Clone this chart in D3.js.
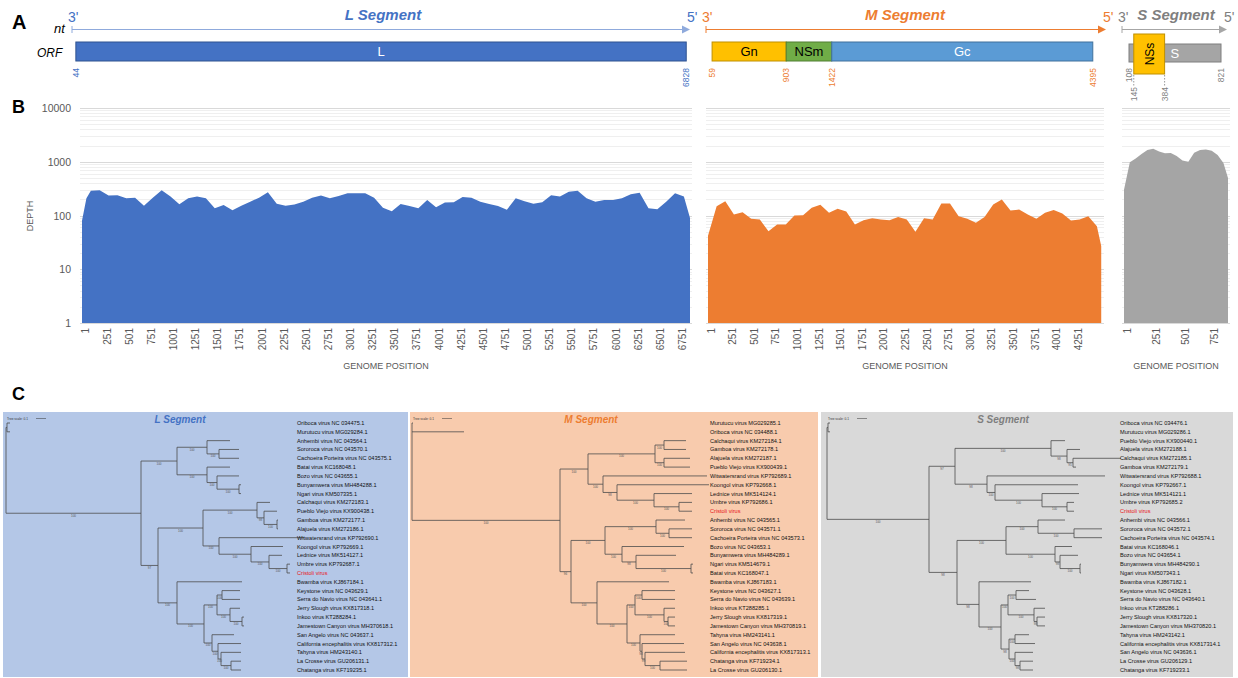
<!DOCTYPE html>
<html>
<head>
<meta charset="utf-8">
<script src="https://cdn.jsdelivr.net/npm/d3@7"></script>
<style>
body { margin: 0; background: #fff; }
text { font-family: "Liberation Sans", Arial, sans-serif; }
</style>
</head>
<body>
<svg id="fig" width="1238" height="678"></svg>
<script>
// ---- data ----
// read depth, sampled along each segment
var lPos = [1, 51].concat(d3.range(101, 6802, 100)).concat([6870]);
var lDepth = [80, 210, 290, 295, 235, 238, 209, 215, 152, 215, 295, 225, 162, 209, 225, 209, 136, 157, 125, 152,
  181, 215, 270, 165, 152, 160, 181, 215, 235, 209, 230, 260, 260, 260, 215, 140, 120, 164, 150, 136,
  195, 142, 174, 177, 220, 215, 181, 164, 150, 128, 209, 184, 165, 177, 238, 225, 277, 290, 209, 181,
  195, 195, 209, 248, 265, 136, 131, 181, 260, 225, 90];
var mPos = d3.range(1, 4502, 100).concat([4551]);
var mDepth = [42, 149, 185, 104, 115, 87, 84, 51, 68, 68, 100, 101, 139, 158, 112, 133, 119, 68, 82, 89,
  84, 82, 94, 84, 50, 89, 84, 167, 167, 97, 87, 73, 94, 160, 199, 124, 129, 104, 87, 112,
  126, 109, 81, 84, 97, 63, 27];
var sPos = d3.range(1, 852, 50).concat([890]);
var sDepth = [300, 980, 1150, 1400, 1650, 1750, 1550, 1440, 1460, 1280, 1060, 1000, 1470, 1650, 1690, 1600, 1330, 950, 500];

var lTicks = d3.range(1, 6752, 250);
var mTicks = d3.range(1, 4252, 250);
var sTicks = [1, 251, 501, 751];
var yTickValues = [1, 10, 100, 1000, 10000];

// ORFs (nt coordinates)
var lOrfs = [{name: 'L', start: 44, end: 6828}];
var mOrfs = [{name: 'Gn', start: 59, end: 903}, {name: 'NSm', start: 903, end: 1422}, {name: 'Gc', start: 1422, end: 4395}];
var sOrfs = [{name: 'S', start: 108, end: 821}];
var nssOrf = {name: 'NSs', start: 145, end: 384};
var lCoords = [44, 6828];
var mCoords = [59, 903, 1422, 4395];
var sCoords = [108, 821];
var nssCoords = [145, 384];

// trees (newick, branch lengths in subst./site)
var lTree = "((Oriboca virus NC 034475.1:0.03,Murutucu virus MG029284.1:0.03):0.01,(((Anhembi virus NC 043564.1:0.23,(Sororoca virus NC 043570.1:0.20,Cachoeira Porteira virus NC 043575.1:0.20)100:0.12)100:0.30,(Batai virus KC168048.1:0.23,(Bozo virus NC 043655.1:0.22,(Bunyamwera virus MH484288.1:0.02,Ngari virus KM507335.1:0.02)100:0.22)100:0.10)100:0.30)100:0.36,(((Calchaqui virus KM272183.1:0.13,(Pueblo Viejo virus KX900438.1:0.13,(Gamboa virus KM272177.1:0.01,Alajuela virus KM272186.1:0.01)100:0.13)98:0.07)100:0.54,(Witwatersrand virus KP792690.1:0.85,(Koongol virus KP792669.1:0.32,(Lednice virus MK514127.1:0.13,(Umbre virus KP792687.1:0.03,Cristoli virus:0.03)100:0.18)100:0.18)100:0.32)100:0.16)100:0.45,(Bwamba virus KJ867184.1:0.65,(((Keystone virus NC 043629.1:0.18,Serra do Navio virus NC 043641.1:0.18)100:0.05,(Jerry Slough virus KX817318.1:0.10,(Inkoo virus KT288284.1:0.02,Jamestown Canyon virus MH370618.1:0.02)100:0.12)100:0.13)100:0.13,(San Angelo virus NC 043637.1:0.22,(California encephalitis virus KX817312.1:0.23,(Tahyna virus HM243140.1:0.20,(La Crosse virus GU206131.1:0.10,Chatanga virus KF719235.1:0.10)100:0.10)100:0.03)100:0.06)100:0.08)100:0.27)100:0.19)97:0.17)100:1.35);";
var mTree = "(Murutucu virus MG029285.1:0.01,Oriboca virus NC 034488.1:0.52,((((Calchaqui virus KM272184.1:0.22,Gamboa virus KM272178.1:0.22)100:0.09,(Alajuela virus KM272187.1:0.26,Pueblo Viejo virus KX900439.1:0.26)100:0.09)100:0.67,(Witwatersrand virus KP792689.1:1.04,(Koongol virus KP792668.1:0.92,(Lednice virus MK514124.1:0.38,(Umbre virus KP792686.1:0.13,Cristoli virus:0.13)100:0.25)100:0.37)98:0.14)100:0.15)100:0.28,(((Anhembi virus NC 043565.1:0.29,(Sororoca virus NC 043571.1:0.23,Cachoeira Porteira virus NC 043573.1:0.23)100:0.13)100:0.51,(Bozo virus NC 043653.1:0.62,(Bunyamwera virus MH484289.1:0.40,(Ngari virus KM514679.1:0.02,Batai virus KC168047.1:0.02)100:0.55)98:0.14)100:0.17)100:0.34,(Bwamba virus KJ867183.1:0.72,(((Keystone virus NC 043627.1:0.33,Serra do Navio virus NC 043639.1:0.33)100:0.07,(Inkoo virus KT288285.1:0.11,(Jerry Slough virus KX817319.1:0.07,Jamestown Canyon virus MH370819.1:0.07)100:0.04)100:0.29)100:0.08,(Tahyna virus HM243141.1:0.35,(San Angelo virus NC 043638.1:0.42,(California encephalitis virus KX817313.1:0.40,(Chatanga virus KF719234.1:0.27,La Crosse virus GU206130.1:0.27)100:0.15)99:0.03)98:0.02)100:0.13)100:0.30)100:0.26)96:0.11)100:1.48);";
var sTree = "((Oriboca virus NC 034476.1:0.02,Murutucu virus MG029286.1:0.02):0.01,(((Pueblo Viejo virus KX900440.1:0.14,(Alajuela virus KM272188.1:0.13,(Calchaqui virus KM272185.1:0.48,Gamboa virus KM272179.1:0.03)95:0.06)98:0.16)100:0.96,(Witwatersrand virus KP792688.1:1.18,(Koongol virus KP792667.1:0.83,(Lednice virus MK514121.1:0.37,(Umbre virus KP792685.2:0.07,Cristoli virus:0.07)100:0.25)100:0.47)100:0.08)98:0.32)97:0.26,(((Anhembi virus NC 043566.1:0.27,(Sororoca virus NC 043572.1:0.28,Cachoeira Porteira virus NC 043574.1:0.28)100:0.36)100:0.32,(Batai virus KC168046.1:0.17,(Bozo virus NC 043654.1:0.18,(Bunyamwera virus MH484290.1:0.01,Ngari virus KM507343.1:0.01)100:0.20)98:0.05)100:0.49)100:0.49,(Bwamba virus KJ867182.1:0.52,(((Keystone virus NC 043628.1:0.13,Serra do Navio virus NC 043640.1:0.20)100:0.08,(Inkoo virus KT288286.1:0.11,(Jerry Slough virus KX817320.1:0.08,Jamestown Canyon virus MH370820.1:0.08)98:0.03)100:0.26)100:0.07,((Tahyna virus HM243142.1:0.14,California encephalitis virus KX817314.1:0.20)100:0.06,(San Angelo virus NC 043636.1:0.18,(La Crosse virus GU206129.1:0.13,Chatanga virus KF719233.1:0.13)98:0.05)100:0.06)98:0.08)100:0.22)98:0.22)98:0.28)100:1.02);";

var svg = d3.select('#fig');
var grey = '#595959';

// ---------- panel letters ----------
svg.append('text').attr('x', 12).attr('y', 29).attr('font-size', 20).attr('font-weight', 'bold').text('A');
svg.append('text').attr('x', 12).attr('y', 113).attr('font-size', 18).attr('font-weight', 'bold').text('B');
svg.append('text').attr('x', 12).attr('y', 400).attr('font-size', 18).attr('font-weight', 'bold').text('C');

// ---------- panel A ----------
svg.append('text').attr('x', 54).attr('y', 33).attr('font-size', 13).attr('font-style', 'italic').text('nt');
svg.append('text').attr('x', 37).attr('y', 57).attr('font-size', 12).attr('font-style', 'italic').text('ORF');

var lNt = d3.scaleLinear().domain([1, 6870]).range([72, 690]);
var mNt = d3.scaleLinear().domain([1, 4500]).range([707, 1102]);
var sNt = d3.scaleLinear().domain([108, 821]).range([1129, 1221]);

var segs = [
  {title: 'L Segment', color: '#4472C4', line: '#8FAADC', x0: 72, x1: 690, tx: 383},
  {title: 'M Segment', color: '#ED7D31', line: '#ED7D31', x0: 706, x1: 1106, tx: 905},
  {title: 'S Segment', color: '#7F7F7F', line: '#A6A6A6', x0: 1122, x1: 1227, tx: 1176}
];
var gA = svg.append('g');
segs.forEach(function(s) {
  gA.append('line').attr('x1', s.x0).attr('x2', s.x1 - 6).attr('y1', 29.5).attr('y2', 29.5)
    .attr('stroke', s.line).attr('stroke-width', 1.2);
  gA.append('line').attr('x1', s.x0).attr('x2', s.x0).attr('y1', 26).attr('y2', 33)
    .attr('stroke', s.line).attr('stroke-width', 1);
  gA.append('path').attr('d', 'M' + (s.x1 - 8) + ',25.5L' + s.x1 + ',29.5L' + (s.x1 - 8) + ',33.5Z')
    .attr('fill', s.line);
  gA.append('text').attr('x', s.x0 - 4).attr('y', 22).attr('font-size', 14).attr('fill', s.color).text("3'");
  gA.append('text').attr('x', s.x1 - 3).attr('y', 22).attr('font-size', 14).attr('fill', s.color).text("5'");
  gA.append('text').attr('x', s.tx).attr('y', 20).attr('text-anchor', 'middle').attr('font-size', 15)
    .attr('font-weight', 'bold').attr('font-style', 'italic').attr('fill', s.color).text(s.title);
});

var orfStyle = {
  L: {fill: '#4472C4', stroke: '#2F528F', text: '#fff'},
  Gn: {fill: '#FFC000', stroke: '#BF9000', text: '#000'},
  NSm: {fill: '#70AD47', stroke: '#507E32', text: '#000'},
  Gc: {fill: '#5B9BD5', stroke: '#41719C', text: '#fff'},
  S: {fill: '#A5A5A5', stroke: '#7F7F7F', text: '#fff'},
  NSs: {fill: '#FFC000', stroke: '#BF9000', text: '#000'}
};

function drawOrfs(data, sc, y0, y1) {
  data.forEach(function(o) {
    var st = orfStyle[o.name];
    gA.append('rect').attr('x', sc(o.start)).attr('y', y0).attr('width', sc(o.end) - sc(o.start))
      .attr('height', y1 - y0).attr('fill', st.fill).attr('stroke', st.stroke).attr('stroke-width', 1);
    if (o.name !== 'S') {
      gA.append('text').attr('x', (sc(o.start) + sc(o.end)) / 2).attr('y', (y0 + y1) / 2 + 4.5)
        .attr('text-anchor', 'middle').attr('font-size', 13).attr('fill', st.text).text(o.name);
    }
  });
}
drawOrfs(lOrfs, lNt, 42, 61);
drawOrfs(mOrfs, mNt, 42, 61);
drawOrfs(sOrfs, sNt, 44, 62);
gA.append('text').attr('x', sNt(384) + 6).attr('y', 58).attr('font-size', 13).attr('fill', '#fff').text('S');
gA.append('rect').attr('x', sNt(nssOrf.start)).attr('y', 34).attr('width', sNt(nssOrf.end) - sNt(nssOrf.start))
  .attr('height', 40).attr('fill', orfStyle.NSs.fill).attr('stroke', orfStyle.NSs.stroke);
gA.append('text').attr('transform', 'translate(' + ((sNt(145) + sNt(384)) / 2 + 4.5) + ',54) rotate(-90)')
  .attr('text-anchor', 'middle').attr('font-size', 12).text('NSs');

function coordLabels(vals, sc, color, y) {
  vals.forEach(function(v) {
    gA.append('text').attr('transform', 'translate(' + (sc(v) + 3) + ',' + y + ') rotate(-90)')
      .attr('text-anchor', 'end').attr('font-size', 8.5).attr('fill', color).text(v);
  });
}
coordLabels(lCoords, lNt, '#4472C4', 68);
coordLabels(mCoords, mNt, '#ED7D31', 68);
coordLabels(sCoords, sNt, '#7F7F7F', 68);
nssCoords.forEach(function(v) {
  var x = sNt(v);
  gA.append('line').attr('x1', x).attr('x2', x).attr('y1', 75).attr('y2', 86)
    .attr('stroke', '#7F7F7F').attr('stroke-width', 0.8).attr('stroke-dasharray', '1.5,1.5');
  gA.append('text').attr('transform', 'translate(' + (x + 3) + ',87) rotate(-90)')
    .attr('text-anchor', 'end').attr('font-size', 8.5).attr('fill', '#7F7F7F').text(v);
});

// ---------- panel B ----------
var y = d3.scaleLog().domain([1, 10000]).range([323, 108]);
var charts = [
  {pos: lPos, val: lDepth, x: d3.scaleLinear().domain([1, 6870]).range([82, 690]), color: '#4472C4', ticks: lTicks},
  {pos: mPos, val: mDepth, x: d3.scaleLinear().domain([1, 4560]).range([708, 1102]), color: '#ED7D31', ticks: mTicks},
  {pos: sPos, val: sDepth, x: d3.scaleLinear().domain([1, 890]).range([1124, 1228]), color: '#A5A5A5', ticks: sTicks}
];
var gB = svg.append('g');
var gridVals = y.ticks();
charts.forEach(function(c, ci) {
  var r = c.x.range();
  gB.append('g').selectAll('line').data(gridVals).enter().append('line')
    .attr('x1', r[0] - 2).attr('x2', r[1] + 2)
    .attr('y1', function(d) { return Math.round(y(d)) + 0.5; })
    .attr('y2', function(d) { return Math.round(y(d)) + 0.5; })
    .attr('stroke', function(d) { return yTickValues.indexOf(d) >= 0 ? '#d9d9d9' : '#efefef'; })
    .attr('stroke-width', 1);

  var pts = c.pos.map(function(p, i) { return [p, c.val[i]]; });
  var area = d3.area()
    .x(function(d) { return c.x(d[0]); })
    .y0(y(1))
    .y1(function(d) { return y(d[1]); });
  gB.append('path').datum(pts).attr('d', area).attr('fill', c.color);

  gB.append('g').selectAll('text').data(c.ticks).enter().append('text')
    .attr('transform', function(d) { return 'translate(' + (c.x(d) + 6.5) + ',328) rotate(-90)'; })
    .attr('text-anchor', 'end').attr('font-size', 10).attr('fill', grey)
    .text(function(d) { return d; });

  gB.append('text').attr('x', (r[0] + r[1]) / 2).attr('y', 369).attr('text-anchor', 'middle')
    .attr('font-size', 9).attr('fill', grey).text('GENOME POSITION');
});
gB.append('g').selectAll('text').data(yTickValues).enter().append('text')
  .attr('x', 71).attr('y', function(d) { return y(d) + 4; })
  .attr('text-anchor', 'end').attr('font-size', 10.5).attr('fill', grey)
  .text(function(d) { return d; });
gB.append('text').attr('transform', 'translate(33,216) rotate(-90)').attr('text-anchor', 'middle')
  .attr('font-size', 9).attr('fill', grey).text('DEPTH');

// ---------- panel C ----------
function parseNewick(s) {
  var ancestors = [], tree = {}, toks = s.split(/\s*(;|\(|\)|,|:)\s*/);
  for (var i = 0; i < toks.length; i++) {
    var t = toks[i], sub;
    switch (t) {
      case '(': sub = {}; tree.children = [sub]; ancestors.push(tree); tree = sub; break;
      case ',': sub = {}; ancestors[ancestors.length - 1].children.push(sub); tree = sub; break;
      case ')': tree = ancestors.pop(); break;
      case ':': case ';': break;
      default:
        var prev = toks[i - 1];
        if (prev === ')' || prev === '(' || prev === ',') tree.name = t;
        else if (prev === ':') tree.length = parseFloat(t);
    }
  }
  return tree;
}

var panels = [
  {tree: lTree, bg: '#B4C7E7', x0: 3, x1: 408, rootX: 6, labelX: 297, title: 'L Segment', tColor: '#4472C4', tx: 180},
  {tree: mTree, bg: '#F8CBAD', x0: 410, x1: 818, rootX: 412, labelX: 710, title: 'M Segment', tColor: '#ED7D31', tx: 591},
  {tree: sTree, bg: '#D9D9D9', x0: 821, x1: 1233, rootX: 827, labelX: 1120, title: 'S Segment', tColor: '#7F7F7F', tx: 1003}
];

panels.forEach(function(p) {
  var g = svg.append('g');
  g.append('rect').attr('x', p.x0).attr('y', 412).attr('width', p.x1 - p.x0).attr('height', 265).attr('fill', p.bg);
  g.append('text').attr('x', p.tx).attr('y', 423).attr('text-anchor', 'middle').attr('font-size', 10)
    .attr('font-weight', 'bold').attr('font-style', 'italic').attr('fill', p.tColor).text(p.title);

  var xs = d3.scaleLinear().domain([0, 1]).range([p.rootX, p.rootX + 100]);
  g.append('text').attr('x', p.rootX + 1).attr('y', 419.5).attr('font-size', 3.2).attr('fill', '#333').text('Tree scale: 0.1');
  g.append('line').attr('x1', p.rootX + 30).attr('x2', xs(0.1) + 30).attr('y1', 418.5).attr('y2', 418.5)
    .attr('stroke', '#333').attr('stroke-width', 0.5);

  var root = d3.hierarchy(parseNewick(p.tree));
  root.eachBefore(function(n) { n.len = n.parent ? n.parent.len + (n.data.length || 0) : 0; });
  var leaves = root.leaves();
  var ys = d3.scalePoint().domain(leaves.map(function(d, i) { return i; })).range([423, 670]);
  leaves.forEach(function(d, i) { d.py = ys(i); });
  root.eachAfter(function(n) {
    if (n.children) n.py = (n.children[0].py + n.children[n.children.length - 1].py) / 2;
    n.px = xs(n.len);
  });

  var lines = g.append('g').attr('stroke', '#4d4d4d').attr('stroke-width', 0.8).attr('fill', 'none');
  root.descendants().forEach(function(n) {
    if (n.parent) {
      lines.append('line').attr('x1', n.parent.px).attr('x2', n.px).attr('y1', n.py).attr('y2', n.py);
    }
    if (n.children) {
      lines.append('line').attr('x1', n.px).attr('x2', n.px)
        .attr('y1', n.children[0].py).attr('y2', n.children[n.children.length - 1].py);
      if (n.parent && n.data.name) {
        g.append('text').attr('x', (n.parent.px + n.px) / 2).attr('y', n.py + 3.5)
          .attr('text-anchor', 'middle').attr('font-size', 3).attr('fill', '#555').text(n.data.name);
      }
    }
  });

  g.append('g').selectAll('text').data(leaves).enter().append('text')
    .attr('x', p.labelX).attr('y', function(d) { return d.py + 2; })
    .attr('font-size', 5.6)
    .attr('fill', function(d) { return d.data.name === 'Cristoli virus' ? '#e8141b' : '#111'; })
    .text(function(d) { return d.data.name; });
});
</script>
</body>
</html>
